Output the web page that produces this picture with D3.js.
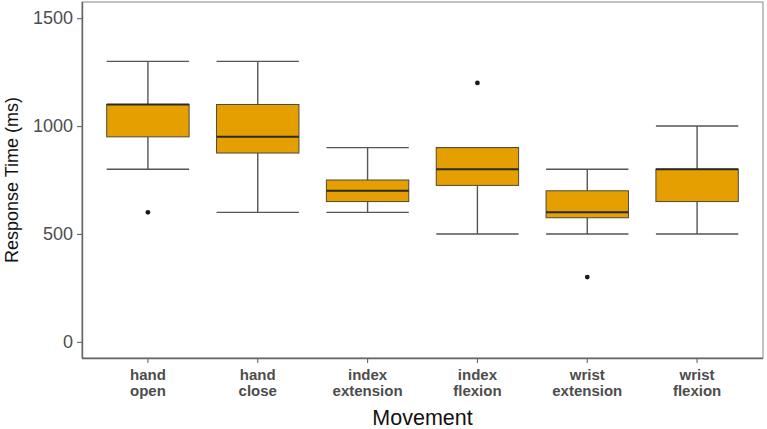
<!DOCTYPE html>
<html>
<head>
<meta charset="utf-8">
<script src="https://cdn.jsdelivr.net/npm/d3@7"></script>
<style>
  body { margin: 0; background: #fff; }
  svg { display: block; }
  text { font-family: "Liberation Sans", Arial, sans-serif; }
</style>
</head>
<body>
<svg id="chart" width="767" height="429"></svg>
<script>
// Data
const categories = ["hand open", "hand close", "index extension", "index flexion", "wrist extension", "wrist flexion"];
const whiskerLow = [800, 600, 600, 500, 500, 500];
const q1 = [950, 875, 650, 725, 575, 650];
const median = [1100, 950, 700, 800, 600, 800];
const q3 = [1100, 1100, 750, 900, 700, 800];
const whiskerHigh = [1300, 1300, 900, 900, 800, 1000];
const outliers = [[600], [], [], [1200], [300], []];
const yTicks = [0, 500, 1000, 1500];

const svg = d3.select("#chart");
const m = { left: 82, right: 4, top: 2, bottom: 70 };
const W = 767, H = 429;

// ggplot discrete expansion (0.6 units each side)
const n = categories.length;
const unit = (W - m.right - m.left) / (n - 1 + 1.2);
const cx = d3.scaleOrdinal().domain(categories).range(categories.map((c, i) => m.left + unit * (0.6 + i)));
const y = d3.scaleLinear().domain([-75, 1575]).range([H - m.bottom - 1, m.top]);
const bw = unit * 0.75;

const data = categories.map((c, i) => ({
  c, lo: whiskerLow[i], q1: q1[i], med: median[i], q3: q3[i], hi: whiskerHigh[i], out: outliers[i]
}));

// Panel border (top/right lighter)
svg.append("rect")
  .attr("x", m.left).attr("y", y.range()[1])
  .attr("width", W - m.right - m.left).attr("height", y.range()[0] - y.range()[1])
  .attr("fill", "none").attr("stroke", "#9a9a9a").attr("stroke-width", 1.2);

const g = svg.append("g");
const boxes = g.selectAll("g.box").data(data).join("g");
const wcol = "#555", ww = 1.4;

// whisker verticals
boxes.append("line")
  .attr("x1", d => cx(d.c)).attr("x2", d => cx(d.c))
  .attr("y1", d => y(d.hi)).attr("y2", d => y(d.q3))
  .attr("stroke", wcol).attr("stroke-width", ww);
boxes.append("line")
  .attr("x1", d => cx(d.c)).attr("x2", d => cx(d.c))
  .attr("y1", d => y(d.q1)).attr("y2", d => y(d.lo))
  .attr("stroke", wcol).attr("stroke-width", ww);
// whisker caps
boxes.append("line")
  .attr("x1", d => cx(d.c) - bw / 2).attr("x2", d => cx(d.c) + bw / 2)
  .attr("y1", d => y(d.hi)).attr("y2", d => y(d.hi))
  .attr("stroke", wcol).attr("stroke-width", ww);
boxes.append("line")
  .attr("x1", d => cx(d.c) - bw / 2).attr("x2", d => cx(d.c) + bw / 2)
  .attr("y1", d => y(d.lo)).attr("y2", d => y(d.lo))
  .attr("stroke", wcol).attr("stroke-width", ww);
// box
boxes.append("rect")
  .attr("x", d => cx(d.c) - bw / 2).attr("width", bw)
  .attr("y", d => y(d.q3)).attr("height", d => y(d.q1) - y(d.q3))
  .attr("fill", "#E69F00").attr("stroke", "#4a4a3a").attr("stroke-width", 1);
// median
boxes.append("line")
  .attr("x1", d => cx(d.c) - bw / 2).attr("x2", d => cx(d.c) + bw / 2)
  .attr("y1", d => y(d.med)).attr("y2", d => y(d.med))
  .attr("stroke", "#2a2a2a").attr("stroke-width", 2);
// outliers
boxes.selectAll("circle").data(d => d.out.map(v => ({ c: d.c, v }))).join("circle")
  .attr("cx", d => cx(d.c)).attr("cy", d => y(d.v)).attr("r", 2.4).attr("fill", "#1a1a1a");

// Axes
const yAxis = d3.axisLeft(y).tickValues(yTicks).tickSize(5).tickPadding(4).tickFormat(d3.format("d"));
const ya = svg.append("g").attr("transform", `translate(${m.left},0)`).call(yAxis);
ya.select(".domain").attr("stroke", "#666").attr("stroke-width", 1.4).attr("d", `M0.5,${y.range()[1]}V${y.range()[0]}`);
ya.selectAll(".tick line").attr("stroke", "#666").attr("stroke-width", 1.1);
ya.selectAll(".tick text").attr("fill", "#4d4d4d").style("font-size", "18px");

const xa = svg.append("g").attr("transform", `translate(0,${y.range()[0]})`);
xa.append("line").attr("x1", m.left).attr("x2", W - m.right).attr("y1", 0.5).attr("y2", 0.5)
  .attr("stroke", "#666").attr("stroke-width", 1.4);
const xt = xa.selectAll("g.xt").data(categories).join("g").attr("transform", d => `translate(${cx(d)},0)`);
xt.append("line").attr("y1", 0).attr("y2", 5).attr("stroke", "#666").attr("stroke-width", 1.1);
xt.selectAll("text").data(d => d.split(" ")).join("text")
  .attr("text-anchor", "middle").attr("fill", "#4d4d4d")
  .style("font-size", "15px").style("font-weight", "bold")
  .attr("x", 0).attr("y", (d, i) => 22 + i * 15.5).text(d => d);

// Titles
svg.append("text").attr("x", (m.left + W - m.right) / 2).attr("y", 425)
  .attr("text-anchor", "middle").style("font-size", "21.5px").attr("fill", "#111").text("Movement");
svg.append("text").attr("transform", `translate(18,${(y.range()[0] + y.range()[1]) / 2}) rotate(-90)`)
  .attr("text-anchor", "middle").style("font-size", "18px").attr("fill", "#111").text("Response Time (ms)");
</script>
</body>
</html>
